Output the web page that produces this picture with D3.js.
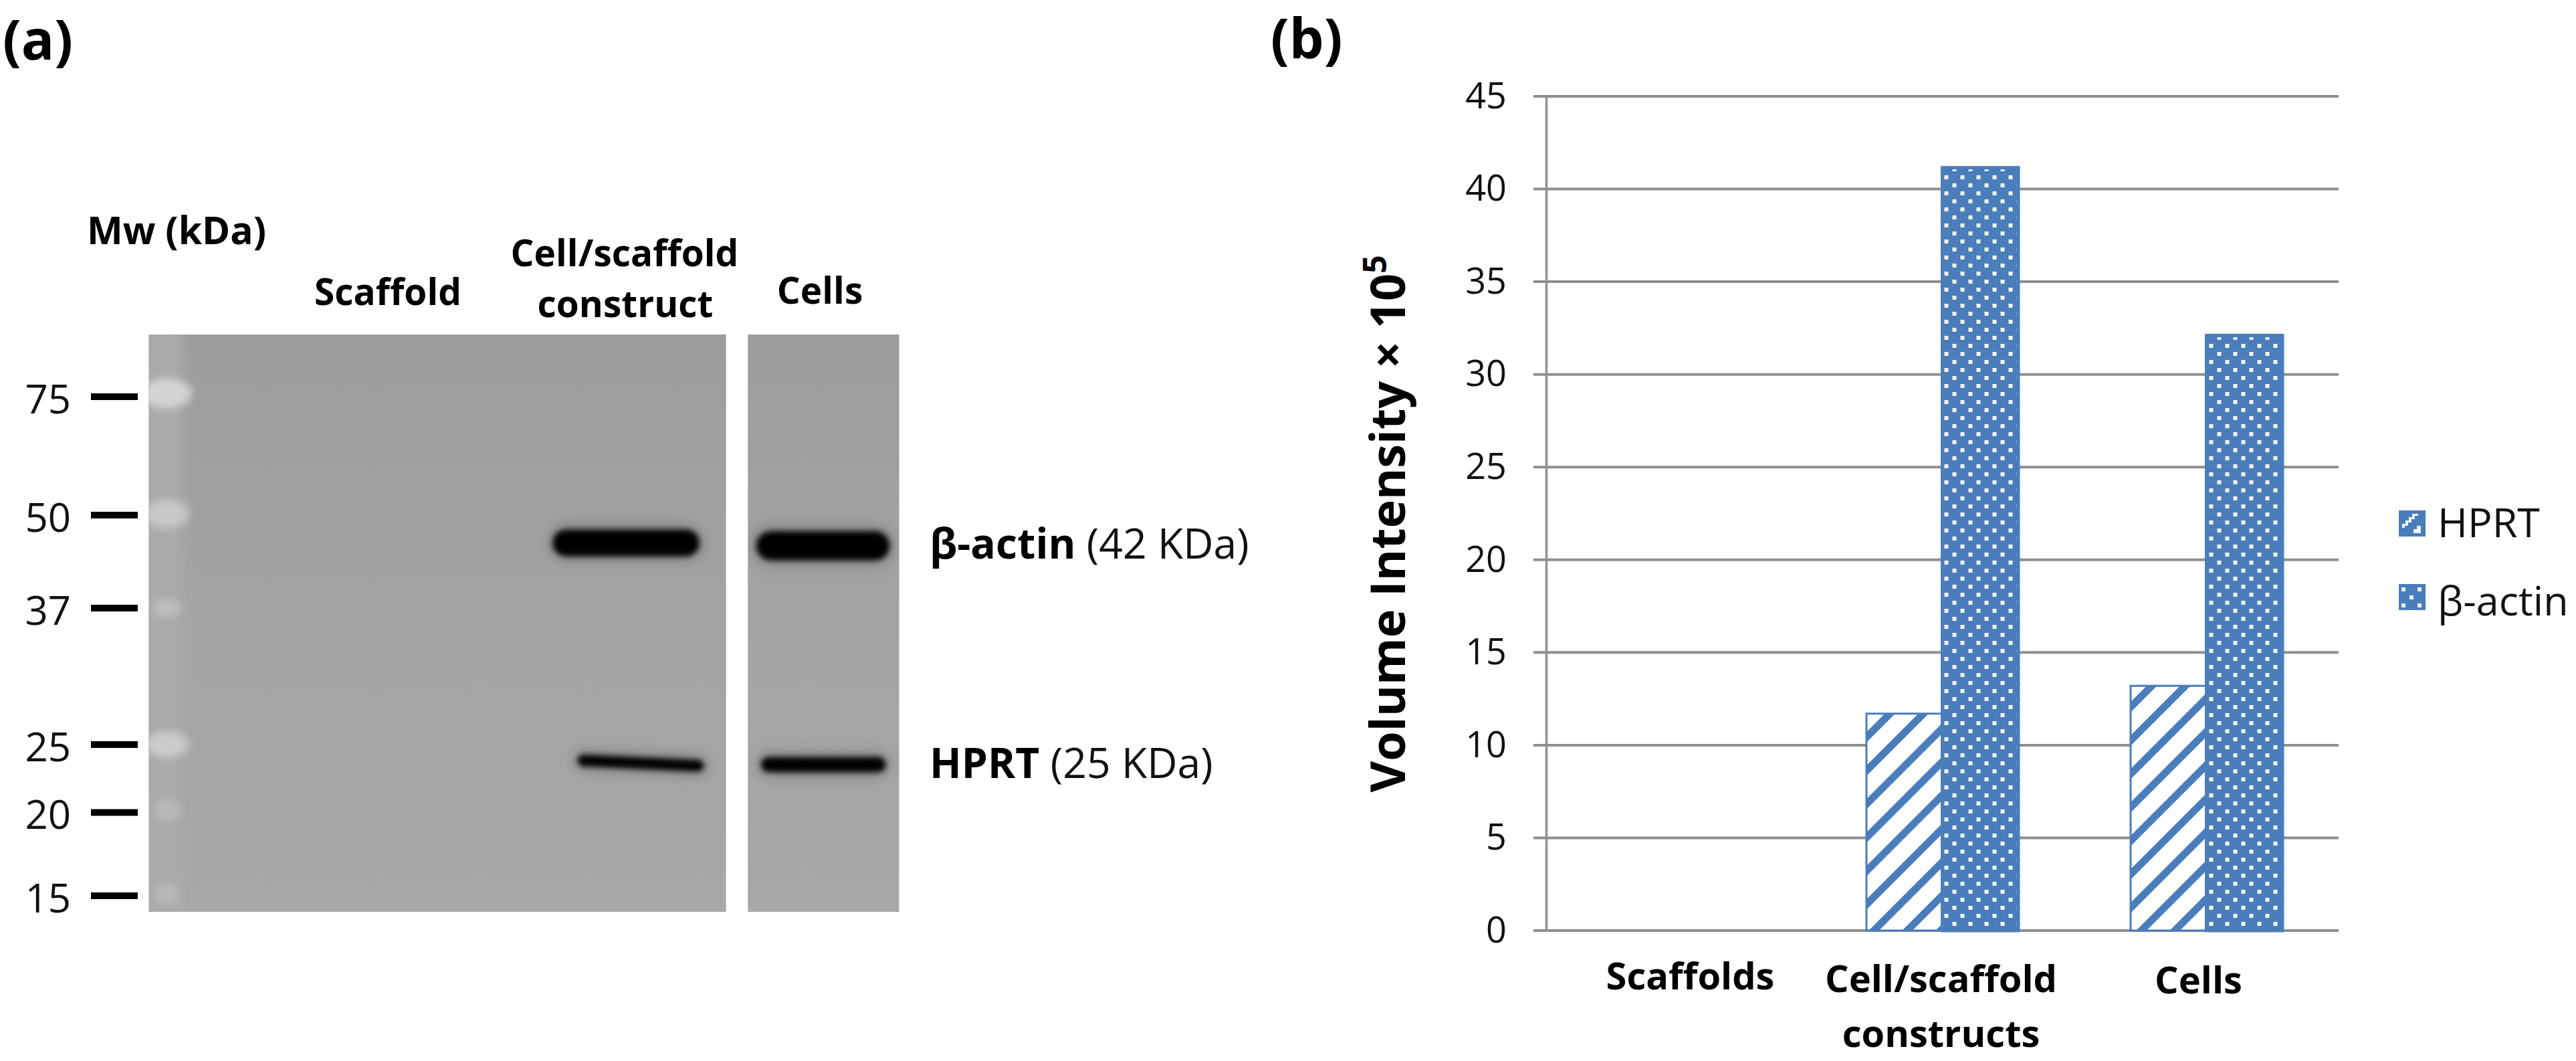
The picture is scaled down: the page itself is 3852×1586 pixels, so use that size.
<!DOCTYPE html>
<html><head><meta charset="utf-8">
<script src="https://cdn.jsdelivr.net/npm/d3@7"></script>
<style>
html,body{margin:0;padding:0;background:#fff}
svg{display:block}
text{font-family:"Open Sans",sans-serif;fill:#111}
.b{font-weight:700;fill:#000}
</style></head><body>
<svg id="c" width="3852" height="1586" xmlns="http://www.w3.org/2000/svg"></svg>
<script>
// ---------- panel (b) data ----------
const categories = ["Scaffolds", "Cell/scaffold constructs", "Cells"];
const seriesNames = ["HPRT", "β-actin"];
const hprtValues = [0, 11.7, 13.2];
const actinValues = [0, 41.15, 32.1];
const yTicks = [0, 5, 10, 15, 20, 25, 30, 35, 40, 45];
const categoryLabelLines = [["Scaffolds"], ["Cell/scaffold", "constructs"], ["Cells"]];
const categoryLabelNudge = [18, -2, -12];

// ---------- panel (a) data (positions in fractions of the blot image) ----------
const mwLabels = ["75", "50", "37", "25", "20", "15"];
const mwMigration = [0.1078, 0.3129, 0.4739, 0.7103, 0.8279, 0.9722];
const ladderMigration = [0.102, 0.311, 0.474, 0.710, 0.824, 0.970];
const ladderStrength = [0.7, 0.5, 0.34, 0.55, 0.24, 0.24];
const ladderHalfHeight = [0.026, 0.025, 0.016, 0.023, 0.02, 0.019];
const ladderHalfWidth = [0.034, 0.03, 0.019, 0.029, 0.018, 0.016];
const blotBandNames = ["actin-construct", "actin-cells", "hprt-construct", "hprt-cells"];
const bandX1 = [0.556, 0.829, 0.579, 0.826];
const bandX2 = [0.716, 0.968, 0.732, 0.972];
const bandY1 = [0.361, 0.366, 0.738, 0.745];
const bandY2 = [0.361, 0.366, 0.747, 0.745];
const bandThickness = [0.046, 0.050, 0.020, 0.026];
const blotPanels = [[0, 0.7693], [0.7984, 1]];

const blue = "#4a7dbb", grid = "#8f8f8f";
const svg = d3.select("#c");
const defs = svg.append("defs");

function userFilter(id, sd){
  const f = defs.append("filter").attr("id",id).attr("filterUnits","userSpaceOnUse")
    .attr("x",0).attr("y",0).attr("width",3852).attr("height",1586);
  f.append("feGaussianBlur").attr("stdDeviation",sd);
}
userFilter("bandBlur",4.5);
userFilter("haloBlur",11);
userFilter("ladBlur",6);
userFilter("colBlur",10);
const bg = defs.append("linearGradient").attr("id","blotBg").attr("x1",0).attr("y1",0).attr("x2",0).attr("y2",1);
[[0,"#9c9c9c"],[0.45,"#a3a3a3"],[1,"#a8a8a8"]].forEach(s=>bg.append("stop").attr("offset",s[0]).attr("stop-color",s[1]));

// patterns
const hatch = defs.append("pattern").attr("id","hatch").attr("patternUnits","userSpaceOnUse")
  .attr("width",50).attr("height",50).attr("x",2791).attr("y",1352);
hatch.append("rect").attr("width",50).attr("height",50).attr("fill","#fff");
hatch.append("path").attr("d","M-25,25L25,-25M-25,75L75,-25M25,75L75,25").attr("stroke",blue).attr("stroke-width",11).attr("fill","none");
const dots = defs.append("pattern").attr("id","dots").attr("patternUnits","userSpaceOnUse")
  .attr("width",24).attr("height",24).attr("x",2910.5-3).attr("y",1369-3);
dots.append("rect").attr("width",24).attr("height",24).attr("fill",blue);
dots.append("rect").attr("width",6).attr("height",6).attr("fill","#f4f7fb");
dots.append("rect").attr("x",12).attr("y",12).attr("width",6).attr("height",6).attr("fill","#f4f7fb");
const patternIds = ["hatch","dots"];

// ---------- panel labels ----------
svg.append("text").attr("class","b").attr("x",4).attr("y",89).attr("font-size",82).text("(a)");
svg.append("text").attr("class","b").attr("x",1900).attr("y",87).attr("font-size",82).text("(b)");

// ---------- panel (a) ----------
const blotX = d3.scaleLinear().domain([0,1]).range([222.6,1344.5]);
const blotY = d3.scaleLinear().domain([0,1]).range([500,1363]);
const a = svg.append("g");
blotPanels.forEach((p,i)=>{
  const clip = defs.append("clipPath").attr("id","bp"+i);
  clip.append("rect").attr("x",blotX(p[0])).attr("y",blotY(0)).attr("width",blotX(p[1])-blotX(p[0])).attr("height",blotY(1)-blotY(0));
});
a.selectAll("rect.panel").data(blotPanels).join("rect").attr("class","panel")
  .attr("x",d=>blotX(d[0])).attr("y",blotY(0)).attr("width",d=>blotX(d[1])-blotX(d[0])).attr("height",blotY(1)-blotY(0))
  .attr("fill","url(#blotBg)");
const gl = a.append("g").attr("clip-path","url(#bp0)");
gl.append("rect").attr("x",blotX(0)-30).attr("y",blotY(0)-30).attr("width",blotX(0.045)-blotX(0)+30).attr("height",blotY(1)-blotY(0)+60).attr("fill","#aaaaaa").attr("filter","url(#colBlur)");
mwLabels.forEach((m,i)=>{
  gl.append("ellipse").attr("cx",blotX(0.024)).attr("cy",blotY(ladderMigration[i]))
    .attr("rx",blotX(ladderHalfWidth[i])-blotX(0)).attr("ry",blotY(ladderHalfHeight[i])-blotY(0))
    .attr("fill","#e6e6e6").attr("opacity",ladderStrength[i]).attr("filter","url(#ladBlur)");
});
blotBandNames.forEach((n,i)=>{
  const g = a.append("g").attr("clip-path", (i%2) ? "url(#bp1)" : "url(#bp0)");
  const ln = ()=>g.append("line").attr("x1",blotX(bandX1[i])).attr("x2",blotX(bandX2[i])).attr("y1",blotY(bandY1[i])).attr("y2",blotY(bandY2[i])).attr("stroke-linecap","round");
  const th = blotY(bandThickness[i])-blotY(0);
  ln().attr("stroke","#555").attr("stroke-width",th+8).attr("opacity",0.55).attr("filter","url(#haloBlur)");
  ln().attr("stroke","#000").attr("stroke-width",th).attr("filter","url(#bandBlur)");
});
// Mw ticks + labels
a.selectAll("line.mw").data(mwMigration).join("line").attr("class","mw")
  .attr("x1",136).attr("x2",206).attr("y1",d=>blotY(d)).attr("y2",d=>blotY(d)).attr("stroke","#000").attr("stroke-width",10);
a.selectAll("text.mw").data(mwLabels).join("text").attr("class","mw")
  .attr("x",106).attr("y",(d,i)=>blotY(mwMigration[i])+25).attr("text-anchor","end").attr("font-size",60).text(d=>d);
const aLab = a.append("g").attr("class","alab");
[["Mw (kDa)",264,365,57],["Scaffold",580,456,55],["Cell/scaffold",934,398,55],["construct",935,474,55],["Cells",1226,454,55]].forEach(t=>{
  aLab.append("text").attr("class","b").attr("x",t[1]).attr("y",t[2]).attr("text-anchor","middle").attr("font-size",t[3]).text(t[0]);
});
[["β-actin"," (42 KDa)",835],["HPRT"," (25 KDa)",1163]].forEach(t=>{
  const tx = aLab.append("text").attr("x",1390).attr("y",t[2]).attr("font-size",62.5);
  tx.append("tspan").attr("class","b").attr("font-weight",700).text(t[0]);
  tx.append("tspan").attr("xml:space","preserve").text(t[1]);
});

// ---------- panel (b) ----------
const x0 = d3.scaleBand().domain(categories).range([2312,3497]);
const x1 = d3.scaleBand().domain(seriesNames).range([84,311]);
const y = d3.scaleLinear().domain([0,45]).range([1391,144]);
const b = svg.append("g");
b.selectAll("line.grid").data(yTicks).join("line").attr("class","grid")
  .attr("x1",2293).attr("x2",3497).attr("y1",d=>y(d)).attr("y2",d=>y(d))
  .attr("stroke",grid).attr("stroke-width",4);
b.append("g").attr("transform","translate(2312,0)")
  .call(d3.axisLeft(y).tickValues(yTicks).tickSize(0).tickPadding(59))
  .call(g=>g.select(".domain").attr("stroke",grid).attr("stroke-width",3.5))
  .call(g=>g.selectAll("text").attr("font-size",54).attr("font-family",'"Open Sans",sans-serif').attr("fill","#111"));
const series = [hprtValues, actinValues];
series.forEach((vals,s)=>{
  b.selectAll("rect.s"+s).data(vals.map((v,i)=>({v,c:categories[i]})).filter(d=>d.v>0)).join("rect").attr("class","s"+s)
    .attr("x",d=>x0(d.c)+x1(seriesNames[s])).attr("width",x1.bandwidth())
    .attr("y",d=>y(d.v)).attr("height",d=>y(0)-y(d.v))
    .attr("fill",`url(#${patternIds[s]})`).attr("stroke",blue).attr("stroke-width",s?5:3);
});
categoryLabelLines.forEach((lines,i)=>{
  lines.forEach((l,j)=>{
    b.append("text").attr("class","b").attr("x",x0(categories[i])+x0.bandwidth()/2+categoryLabelNudge[i])
      .attr("y",(i===0?1479:i===1?1483:1485)+j*82).attr("text-anchor","middle").attr("font-size",56).text(l);
  });
});
const yt = b.append("text").attr("class","b").attr("transform","translate(2101,783) rotate(-90)").attr("text-anchor","middle").attr("font-size",72);
yt.append("tspan").text("Volume Intensity × 10");
yt.append("tspan").attr("dy",-28).attr("font-size",48).text("5");
// legend
const leg = b.append("g");
seriesNames.forEach((n,i)=>{
  const top = [763,873][i];
  const sw = defs.append("pattern").attr("id","sw"+i).attr("patternUnits","userSpaceOnUse").attr("x",3587).attr("y",top).attr("width",40).attr("height",40);
  if(i===0){
    sw.append("rect").attr("width",40).attr("height",40).attr("fill",blue);
    sw.append("path").attr("d","M5,26L5,20L10,20L10,15L15,15L15,10L20,10L20,5L29,5L29,8L24,8L24,13L19,13L19,18L14,18L14,23L9,23L9,26Z M22,32L22,28L27,28L27,23L33,23L33,34L22,34Z").attr("fill","#f4f7fb");
  } else {
    sw.append("rect").attr("width",40).attr("height",40).attr("fill",blue);
    [[4,5],[28,5],[16,17],[4,29],[28,29]].forEach(p=>sw.append("rect").attr("x",p[0]).attr("y",p[1]).attr("width",6).attr("height",6).attr("fill","#eef3f9"));
  }
  leg.append("rect").attr("x",3587).attr("y",top).attr("width",40).attr("height",39).attr("fill",`url(#sw${i})`);
  leg.append("text").attr("x",3645).attr("y",[803,920][i]).attr("font-size",61).text(n);
});
</script>
</body></html>
